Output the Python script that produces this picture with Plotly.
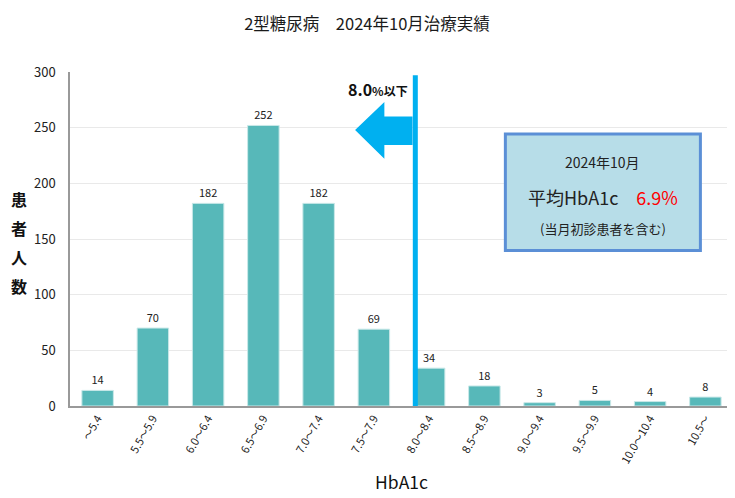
import plotly.graph_objects as go

# --- データ ---
categories = ["〜5.4", "5.5〜5.9", "6.0〜6.4", "6.5〜6.9", "7.0〜7.4", "7.5〜7.9",
              "8.0〜8.4", "8.5〜8.9", "9.0〜9.4", "9.5〜9.9", "10.0〜10.4", "10.5〜"]
patients = [14, 70, 182, 252, 182, 69, 34, 18, 3, 5, 4, 8]

y_ticks = [0, 50, 100, 150, 200, 250, 300]
y_title_chars = ["患", "者", "人", "数"]

FONT = "Noto Sans CJK JP"
idx = list(range(len(categories)))

# ページの body に 8px の余白があるので、その分だけ図を小さくしておく
W, H = 727, 490
L, R, T, B = 62, 1.5, 64, 92
plot_w = W - L - R
plot_h = H - T - B

fig = go.Figure()

# 棒グラフ
fig.add_trace(go.Bar(
    x=idx,
    y=patients,
    text=patients,
    textposition="outside",
    textfont=dict(size=11, color="#222", family=FONT),
    marker=dict(color="#57b8b9", line=dict(color="#c9e8e8", width=1)),
    width=0.57,
    cliponaxis=False,
    hoverinfo="skip",
))

# 8.0%ライン
fig.add_shape(type="line", x0=5.75, x1=5.75, y0=-2, y1=297, xref="x", yref="y",
              line=dict(color="#00b0f0", width=5), layer="above")

# 左向き矢印
fig.add_shape(type="path", xref="x", yref="y",
              path="M 5.70,260 L 5.19,260 L 5.19,273 L 4.66,248 L 5.19,222 L 5.19,234.5 L 5.70,234.5 Z",
              fillcolor="#00b0f0", line=dict(width=0))

fig.add_annotation(x=5.66, y=285, xref="x", yref="y", xanchor="right", yanchor="middle",
                   text="<b><span style='font-size:16px'>8.0</span>%以下</b>",
                   showarrow=False, font=dict(size=12, color="#111", family=FONT))

# 平均HbA1c ボックス
fig.add_shape(type="rect", x0=7.38, x1=10.91, y0=139.7, y1=244.4, xref="x", yref="y",
              fillcolor="#b7dde8", line=dict(color="#5b8fd6", width=3), layer="above")
fig.add_annotation(x=9.145, y=219, xref="x", yref="y", showarrow=False,
                   text="2024年10月", font=dict(size=14, color="#222", family=FONT))
fig.add_annotation(x=9.145, y=188, xref="x", yref="y", showarrow=False,
                   text="平均HbA1c　<span style='color:#ff0000'>6.9%</span>",
                   font=dict(size=18, color="#222", family=FONT))
fig.add_annotation(x=9.145, y=159, xref="x", yref="y", showarrow=False,
                   text="(当月初診患者を含む)", font=dict(size=13, color="#222", family=FONT))

# 縦書きの軸タイトル(1文字ずつ)
for i, ch in enumerate(y_title_chars):
    py = 191 + 29 * i
    fig.add_annotation(x=(10.5 - L) / plot_w, y=(H - B - py) / plot_h,
                       xref="paper", yref="paper", showarrow=False,
                       xanchor="center", yanchor="middle",
                       text=f"<b>{ch}</b>", font=dict(size=16, color="#111", family=FONT))

# --- レイアウト ---
fig.update_layout(
    title=dict(text="2型糖尿病　2024年10月治療実績", x=359 / W, xanchor="center",
               y=1 - 16 / H, yanchor="middle",
               font=dict(size=16.5, color="#1a1a1a", family=FONT)),
    width=W, height=H,
    margin=dict(l=L, r=R, t=T, b=B, autoexpand=False),
    plot_bgcolor="white", paper_bgcolor="white",
    showlegend=False,
    font=dict(family=FONT, color="#222"),
    xaxis=dict(
        tickmode="array", tickvals=idx, ticktext=categories, tickangle=-60,
        tickfont=dict(size=11, color="#222"), range=[-0.5, 11.5],
        showline=True, linecolor="#999", linewidth=1.5, showgrid=False,
        title=dict(text="HbA1c", font=dict(size=17.5, color="#111"), standoff=12),
    ),
    yaxis=dict(
        range=[0, 300], tickvals=y_ticks, tickfont=dict(size=13, color="#222"),
        showline=True, linecolor="#999", linewidth=1.5,
        showgrid=True, gridcolor="#e9e9e9", zeroline=False, ticklabelstandoff=10,
    ),
)

fig.write_html("out.html")
